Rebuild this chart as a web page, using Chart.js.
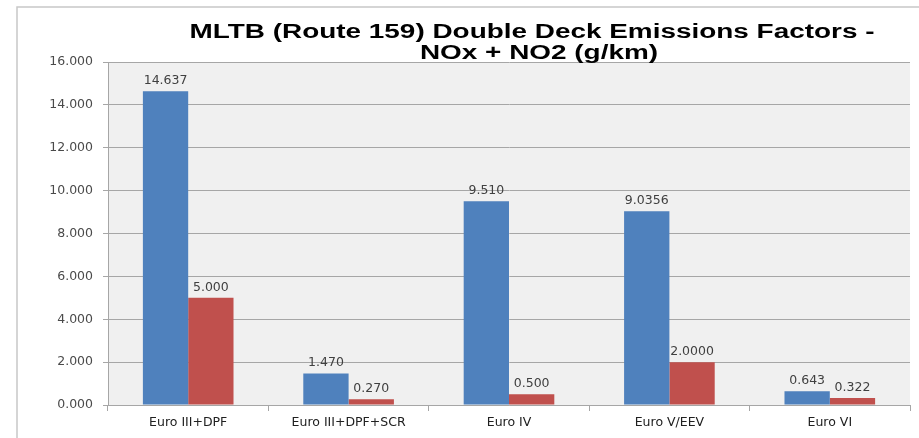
<!DOCTYPE html>
<html>
<head>
<meta charset="utf-8">
<script src="https://cdn.jsdelivr.net/npm/chart.js@4.4.1/dist/chart.umd.min.js"></script>
<style>
  html, body { margin: 0; padding: 0; background: #ffffff; }
  #wrap { width: 919px; height: 438px; position: relative; }
</style>
</head>
<body>
<div id="wrap"><canvas id="emissionsChart" width="919" height="438"></canvas></div>
<script>
// Euro standard categories and NOx / NO2 factors (g/km)
var categories = ["Euro III+DPF", "Euro III+DPF+SCR", "Euro IV", "Euro V/EEV", "Euro VI"];
var noxValues = [14.637, 1.470, 9.510, 9.0356, 0.643];
var no2Values = [5.000, 0.270, 0.500, 2.0000, 0.322];
// decimals shown on each bar label
var noxDecimals = [3, 3, 3, 4, 3];
var no2Decimals = [3, 3, 3, 4, 3];
var yTicks = [0, 2, 4, 6, 8, 10, 12, 14, 16];
var titleLines = ["MLTB (Route 159) Double Deck Emissions Factors -", "NOx + NO2 (g/km)"];

var labelFont = "'DejaVu Sans', Verdana, sans-serif";

// Grey plot background, outer frame and the two-line title
var frameAndTitle = {
    id: "frameAndTitle",
    beforeDraw: function (chart) {
        var c = chart.ctx;
        var a = chart.chartArea;
        c.save();
        c.fillStyle = "#f0f0f0";
        c.fillRect(a.left, a.top, a.right - a.left, a.bottom - a.top);
        c.strokeStyle = "#c8c8c8";
        c.lineWidth = 1.5;
        c.beginPath();
        c.moveTo(17, 438);
        c.lineTo(17, 7);
        c.lineTo(919, 7);
        c.stroke();
        c.restore();
    },
    afterDraw: function (chart) {
        var c = chart.ctx;
        c.save();
        c.fillStyle = "#000000";
        c.font = "bold 20px 'Liberation Sans', Arial, sans-serif";
        c.textAlign = "center";
        c.textBaseline = "middle";
        // title type is set wide, so stretch it horizontally
        var sx = 685 / c.measureText(titleLines[0]).width;
        c.save();
        c.translate(532, 32);
        c.scale(sx, 1);
        c.fillText(titleLines[0], 0, 0);
        c.restore();
        c.save();
        c.translate(539, 53);
        c.scale(sx, 1);
        c.fillText(titleLines[1], 0, 0);
        c.restore();
        c.restore();
    }
};

// Value labels above each bar
var barLabels = {
    id: "barLabels",
    afterDatasetsDraw: function (chart) {
        var c = chart.ctx;
        c.save();
        c.fillStyle = "#404040";
        c.font = "12.5px " + labelFont;
        c.textAlign = "center";
        c.textBaseline = "bottom";
        chart.data.datasets.forEach(function (ds, i) {
            var meta = chart.getDatasetMeta(i);
            meta.data.forEach(function (bar, j) {
                c.fillText(ds.data[j].toFixed(ds.decimals[j]), bar.x, bar.y - 4);
            });
        });
        c.restore();
    }
};

var ctx = document.getElementById("emissionsChart").getContext("2d");

var emissionsChart = new Chart(ctx, {
    type: "bar",
    data: {
        labels: categories,
        datasets: [{
            label: "NOx",
            data: noxValues,
            decimals: noxDecimals,
            backgroundColor: "#4f81bd",
            barPercentage: 1.0,
            categoryPercentage: 0.565
        }, {
            label: "NO2",
            data: no2Values,
            decimals: no2Decimals,
            backgroundColor: "#c0504d",
            barPercentage: 1.0,
            categoryPercentage: 0.565
        }]
    },
    options: {
        responsive: false,
        animation: false,
        layout: {
            padding: { top: 62, right: 9, left: 0, bottom: 0 }
        },
        scales: {
            x: {
                grid: {
                    offset: true,
                    drawOnChartArea: false,
                    drawTicks: true,
                    tickLength: 6,
                    color: "#a6a6a6"
                },
                border: { display: true, color: "#a6a6a6" },
                ticks: {
                    color: "#202020",
                    font: { size: 12.5, family: labelFont },
                    padding: 4,
                    maxRotation: 0
                },
                afterFit: function (scale) { scale.height = 33; }
            },
            y: {
                min: 0,
                max: 16,
                afterBuildTicks: function (scale) {
                    scale.ticks = yTicks.map(function (v) { return { value: v }; });
                },
                grid: {
                    color: "#a6a6a6",
                    tickLength: 5
                },
                border: { display: true, color: "#a6a6a6" },
                ticks: {
                    color: "#4a4a4a",
                    font: { size: 12.5, family: labelFont },
                    padding: 10,
                    callback: function (v) { return v.toFixed(3); }
                },
                afterFit: function (scale) { scale.width = 108; }
            }
        },
        plugins: {
            legend: { display: false },
            tooltip: { enabled: false }
        }
    },
    plugins: [frameAndTitle, barLabels]
});
</script>
</body>
</html>
